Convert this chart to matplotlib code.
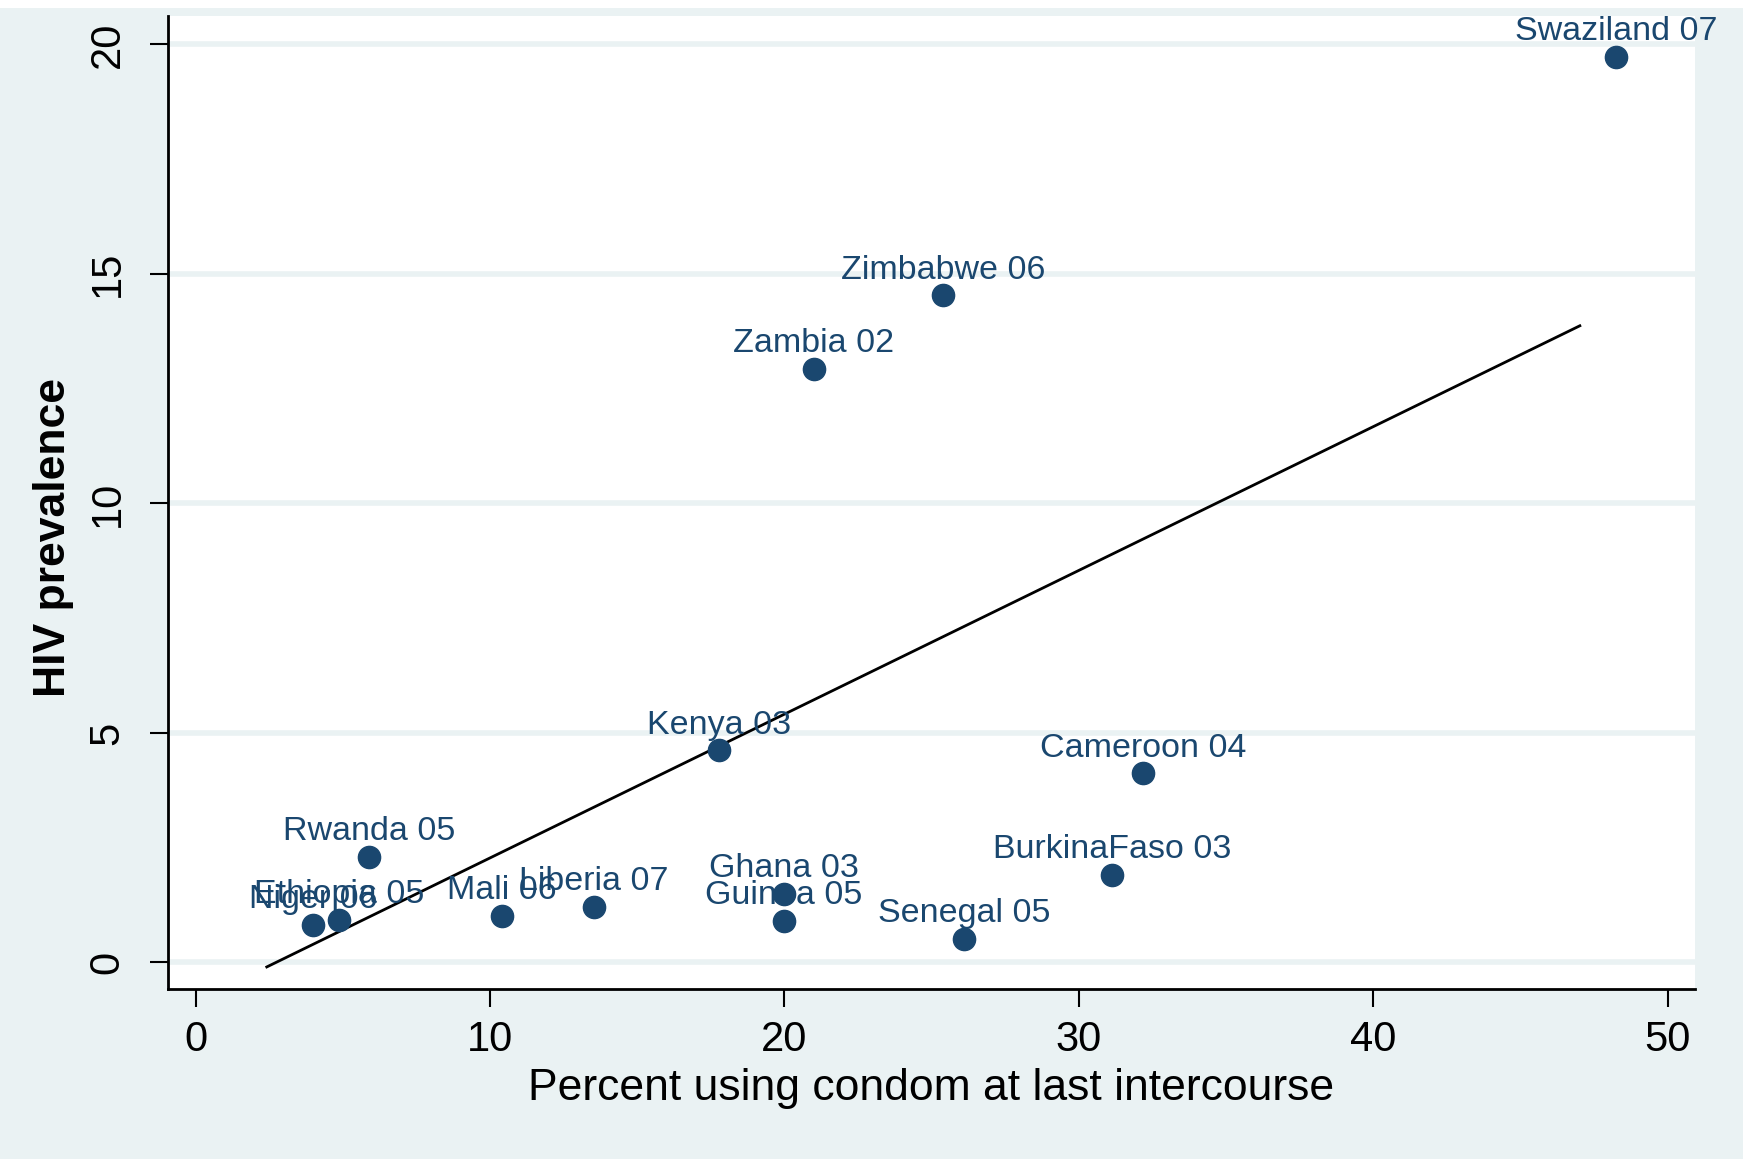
import matplotlib
matplotlib.use("Agg")
from matplotlib import pyplot as plt
from matplotlib.patches import Rectangle

plt.rcParams["font.family"] = ["Liberation Sans", "DejaVu Sans"]

# данные
countries = ["Swaziland 07", "Zimbabwe 06", "Zambia 02", "Kenya 03", "Cameroon 04",
             "Rwanda 05", "BurkinaFaso 03", "Ghana 03", "Liberia 07", "Mali 06",
             "Guinea 05", "Ethiopia 05", "Niger 06", "Senegal 05"]
condom_pct = [48.26, 25.38, 21.0, 17.79, 32.18, 5.89, 31.12, 19.98, 13.52, 10.42,
              19.98, 4.87, 4.0, 26.1]
hiv_prev = [19.73, 14.53, 12.93, 4.62, 4.12, 2.30, 1.91, 1.50, 1.21, 1.02,
            0.90, 0.92, 0.82, 0.51]

fit_x = [2.42, 47.02]
fit_y = [-0.10, 13.87]

x_ticks = [0, 10, 20, 30, 40, 50]
y_ticks = [0, 5, 10, 15, 20]

bg = "#eaf2f3"
navy = "#1a476f"

fig = plt.figure(figsize=(17.43, 11.59), dpi=100)
fig.patch.set_facecolor(bg)
fig.patches.append(Rectangle((0, 0.9933), 1, 0.0067, transform=fig.transFigure,
                             facecolor="white", edgecolor="none", zorder=0))

ax = fig.add_axes([0.0963, 0.1467, 0.8763, 0.8399])
ax.set_facecolor("white")

for yt in y_ticks:
    ax.axhline(yt, color=bg, lw=4, zorder=1)

ax.plot(fit_x, fit_y, color="black", lw=2, zorder=2)
ax.plot(condom_pct, hiv_prev, "o", color=navy, markersize=16, zorder=3)

for name, x, y in zip(countries, condom_pct, hiv_prev):
    ax.annotate(name, (x, y), xytext=(0, 12), textcoords="offset points",
                ha="center", va="baseline", fontsize=24.5, color=navy, zorder=4)

ax.set_xlim(-0.94, 50.94)
ax.set_ylim(-0.58, 20.63)
ax.set_xticks(x_ticks)
ax.set_yticks(y_ticks)
ax.tick_params(axis="x", length=13, width=1.5, pad=9, labelsize=30)
ax.tick_params(axis="y", length=13, width=1.5, pad=16, labelsize=30)
for lbl in ax.get_yticklabels():
    lbl.set_rotation(90)
    lbl.set_va("center")

for side in ["top", "right"]:
    ax.spines[side].set_visible(False)
for side in ["left", "bottom"]:
    ax.spines[side].set_linewidth(2)

ax.set_xlabel("Percent using condom at last intercourse", fontsize=32, labelpad=6)
ax.set_ylabel("HIV prevalence", fontsize=32, fontweight="bold", va="center")
ax.yaxis.set_label_coords(-0.0749, 0.4638)

plt.savefig("out.png", dpi=100, facecolor=fig.get_facecolor())
